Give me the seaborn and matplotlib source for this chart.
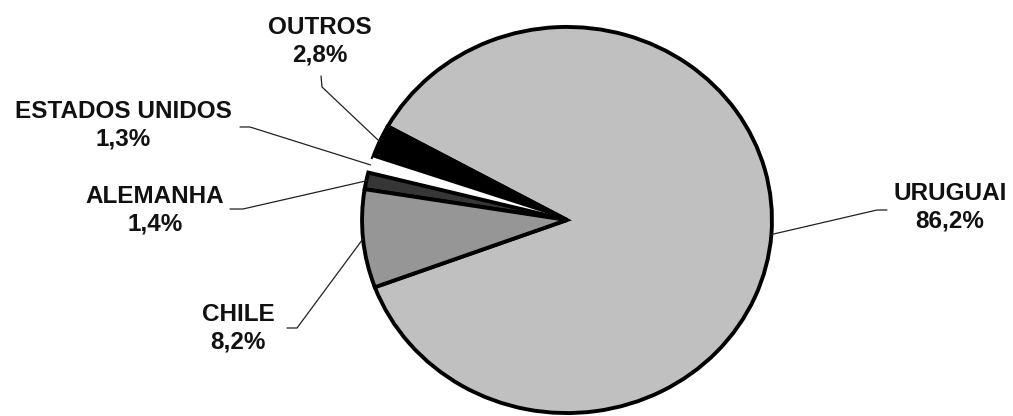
import numpy as np
import matplotlib
matplotlib.use("Agg")
import matplotlib.pyplot as plt
import seaborn as sns

# Destination shares (%)
countries = ["URUGUAI", "OUTROS", "ESTADOS UNIDOS", "ALEMANHA", "CHILE"]
shares = [86.2, 2.8, 1.3, 1.4, 8.2]
slice_colors = ["#c0c0c0", "#000000", "#ffffff", "#363636", "#969696"]

# Label placement (pixel coords, y down): text centre, line anchor, line knee
label_pos = [(950, 207), (320, 41), (123, 125), (155, 210), (238, 328)]
anchor_pos = [(887, 210), (321, 76), (240, 127), (230, 209), (287, 328)]
knee_pos = [(877, 210), (322, 87), (250, 127), (243, 209), (297, 328)]

sns.set_theme(style="white")
plt.rcParams["font.family"] = ["Liberation Sans", "DejaVu Sans"]

W, H = 1013, 416
fig = plt.figure(figsize=(W / 100, H / 100), dpi=100)
fig.patch.set_facecolor("white")

# Pie axes (slightly wider than tall)
cx, cy, rx, ry = 567, 220, 207, 195
ax_pie = fig.add_axes([(cx - rx) / W, (H - cy - ry) / H, 2 * rx / W, 2 * ry / H])
wedges, _ = ax_pie.pie(
    shares,
    colors=slice_colors,
    startangle=151 - 360 * shares[0] / sum(shares),
    counterclock=True,
    radius=1.0,
    wedgeprops=dict(edgecolor="black", linewidth=2.8, joinstyle="miter"),
)
wedges[2].set_linewidth(0)
ax_pie.set_aspect("auto")
ax_pie.set_xlim(-1.01, 1.01)
ax_pie.set_ylim(-1.01, 1.01)
ax_pie.axis("off")

# Overlay axes in pixel units for labels and leader lines
ax_lab = fig.add_axes([0, 0, 1, 1], facecolor="none")
ax_lab.set_xlim(0, W)
ax_lab.set_ylim(H, 0)
ax_lab.axis("off")

to_lab = ax_pie.transData + ax_lab.transData.inverted()

for w, name, val, (tx, ty), (ax_, ay_), (kx, ky) in zip(
    wedges, countries, shares, label_pos, anchor_pos, knee_pos
):
    mid = np.deg2rad((w.theta1 + w.theta2) / 2)
    ex, ey = to_lab.transform((np.cos(mid) * 1.0, np.sin(mid) * 1.0))
    ax_lab.plot([ax_, kx, ex], [ay_, ky, ey], color="#222222", lw=0.9,
                solid_joinstyle="miter")
    txt = f"{name}\n{val:.1f}%".replace(".", ",")
    ax_lab.text(tx, ty, txt, ha="center", va="center", fontsize=17.5,
                fontweight="bold", color="#111111", linespacing=1.25)

fig.savefig("out.png", dpi=100, facecolor="white")
